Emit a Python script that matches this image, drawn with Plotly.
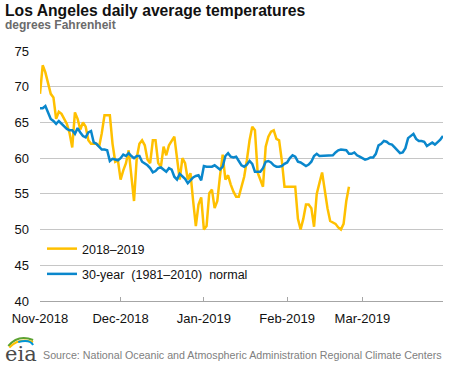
import pandas as pd
import plotly.graph_objects as go

# ---------------- data ----------------
start_date = "2018-11-01"

temps_2018_2019 = [
    69, 73, 72, 70.5, 69, 68.5, 65.5, 66.5, 66.2, 65.5,
    64.8, 63.5, 61.5, 66.4, 65.5, 64, 65, 64.4, 62.5, 62,
    62, 62, 61.6, 63.5, 66, 66, 66, 62, 59.5, 59.7,
    57, 58.3, 59.3, 61.1, 57.4, 54, 60, 62, 62.5, 61.8,
    59.8, 59.3, 62.5, 62.5, 59.3, 58.8, 61.6, 60.4, 61.8, 62.5,
    63, 60, 57, 60, 59.3, 57, 57.9, 54, 50.5, 53.5,
    54.5, 50, 50.5, 55.1, 55.6, 53, 54, 57.5, 60.5, 57,
    57.6, 56.3, 55.3, 54.6, 54.6, 56, 57.4, 59.7, 62.5, 64.4,
    63.9, 58, 57, 56, 61.6, 63, 63.7, 63.9, 62.7, 62.5,
    59.7, 56, 56, 56, 56, 56, 51.5, 50, 51.5, 53.5,
    53.5, 53, 50.4, 55, 56.5, 58, 55.5, 53, 51.2, 51,
    50.8, 50.3, 50, 50.8, 54, 56,
]

temps_normal = [
    67, 67, 67.3, 66.5, 65.5, 65.2, 64.8, 65.2, 64.8, 64.5,
    64.1, 63.9, 63.9, 63.4, 64.2, 63.6, 63.1, 62.9, 63.6, 63.8,
    62.2, 62, 61.6, 61.2, 61.2, 61.1, 59.6, 59.9, 59.8, 59.7,
    60, 60.5, 60.3, 60.7, 60.3, 60, 60.3, 60.3, 59.5, 59.3,
    59, 58.6, 58, 58.2, 58.6, 58.7, 58.4, 58.1, 58.6, 58.4,
    57.4, 57, 57.8, 57.4, 57.1, 56.5, 56.9, 57.3, 57.5, 57.6,
    56.9, 58.9, 58.8, 58.8, 58.8, 59, 58.7, 58.4, 58.8, 60.3,
    60.7, 60.2, 60.1, 60.2, 59.6, 59, 58.8, 59.1, 59.6, 59.2,
    58.1, 58.1, 58.1, 58.6, 59.5, 59.6, 59.4, 59, 58.8, 58.8,
    58.9, 59.2, 59.4, 60, 60.4, 60.2, 59.5, 59.4, 59.2, 58.9,
    59.1, 59.5, 60.3, 60.6, 60.3, 60.3, 60.3, 60.3, 60.3, 60.4,
    60.8, 61.1, 61.2, 61.2, 61.1, 60.6, 60.6, 60.8, 60.4, 60.2,
    60, 59.8, 59.9, 60.1, 60.1, 60.6, 61.8, 62, 62.4, 62.3,
    62, 61.9, 61.5, 61.1, 60.7, 60.8, 61.4, 62.8, 63.1, 63.4,
    62.7, 62.4, 62.4, 62.3, 61.7, 61.9, 62.2, 61.9, 62.2, 62.6,
    63.1,
]

tick_dates = ["2018-11-01", "2018-12-01", "2019-01-01", "2019-02-01", "2019-03-01"]
tick_labels = ["Nov-2018", "Dec-2018", "Jan-2019", "Feb-2019", "Mar-2019"]
y_ticks = [40, 45, 50, 55, 60, 65, 70, 75]

series_names = ["2018\u20132019", "30-year\u00a0 (1981\u20132010)\u00a0 normal"]
series_colors = ["#FFC000", "#0A87CC"]

# ---------------- figure ----------------
W, H = 468, 366
L, R, T, B = 36, 25, 51, 65
PW, PH = W - L - R, H - T - B


def px(x):
    return (x - L) / PW


def py(y):
    return (H - B - y) / PH


dates_actual = pd.date_range(start_date, periods=len(temps_2018_2019), freq="D")
dates_normal = pd.date_range(start_date, periods=len(temps_normal), freq="D")

FONT = "Liberation Sans, Arial, sans-serif"

fig = go.Figure()
fig.add_trace(go.Scatter(
    x=dates_actual, y=temps_2018_2019, mode="lines", name=series_names[0],
    line=dict(color=series_colors[0], width=2.5), legendgroup="a",
))
fig.add_trace(go.Scatter(
    x=dates_normal, y=temps_normal, mode="lines", name=series_names[1],
    line=dict(color=series_colors[1], width=2.5), legendgroup="b",
))

fig.update_layout(
    width=W, height=H,
    margin=dict(l=L, r=R, t=T, b=B, pad=0),
    paper_bgcolor="white", plot_bgcolor="white",
    font=dict(family=FONT, size=13, color="#222222"),
    showlegend=True,
    legend=dict(
        x=px(38), y=py(234), xanchor="left", yanchor="top",
        bgcolor="rgba(0,0,0,0)", font=dict(size=12.5, color="#111111"),
        tracegroupgap=6, traceorder="grouped", itemwidth=30,
    ),
    xaxis=dict(
        type="date", range=[dates_normal[0], dates_normal[-1]],
        tickvals=tick_dates, ticktext=tick_labels,
        ticks="inside", ticklen=4, tickcolor="#a6a6a6",
        showline=True, linecolor="#a6a6a6", linewidth=1,
        showgrid=False, zeroline=False,
        ticklabelstandoff=5,
        tickfont=dict(size=13, color="#111111"),
    ),
    yaxis=dict(
        range=[40, 75], tickvals=y_ticks,
        showgrid=True, gridcolor="#c6c6c6", gridwidth=1,
        zeroline=False, showline=False, ticks="",
        ticklabelstandoff=10,
        tickfont=dict(size=13, color="#111111"),
    ),
)

annotations = [
    dict(text="<b>Los Angeles daily average temperatures</b>", x=px(-1), y=py(10),
         xref="paper", yref="paper", xanchor="left", yanchor="middle",
         showarrow=False, font=dict(size=15.7, color="#111111", family=FONT)),
    dict(text="<b>degrees Fahrenheit</b>", x=px(-1), y=py(25),
         xref="paper", yref="paper", xanchor="left", yanchor="middle",
         showarrow=False, font=dict(size=12, color="#6b6b6b", family=FONT)),
    dict(text="Source: National Oceanic and Atmospheric Administration Regional Climate Centers",
         x=px(37), y=py(355), xref="paper", yref="paper", xanchor="left", yanchor="middle",
         showarrow=False, font=dict(size=10.7, color="#808080", family=FONT)),
    dict(text="eia", x=px(-1), y=py(354), xref="paper", yref="paper",
         xanchor="left", yanchor="middle", showarrow=False,
         font=dict(size=21, color="#4a4a4a", family="DejaVu Serif, serif")),
]
fig.update_layout(annotations=annotations)


def path(points):
    (x0, y0), (cx, cy), (x1, y1) = points
    return f"M {px(x0)},{py(y0)} Q {px(cx)},{py(cy)} {px(x1)},{py(y1)}"


logo_arcs = [
    ([(4, 346), (14, 334), (29, 340)], "#5DA332"),
    ([(5, 347.5), (15, 337), (29, 342)], "#FFC000"),
    ([(14, 342), (26, 339), (29, 345)], "#0096D7"),
]
shapes = []
for pts, col in logo_arcs:
    shapes.append(dict(type="path", path=path(pts), xref="paper", yref="paper",
                       line=dict(color=col, width=2)))
fig.update_layout(shapes=shapes)

fig.write_html(
    "out.html",
    config={"displayModeBar": False},
    post_script="document.body.style.margin='0';document.body.style.padding='0';",
)
